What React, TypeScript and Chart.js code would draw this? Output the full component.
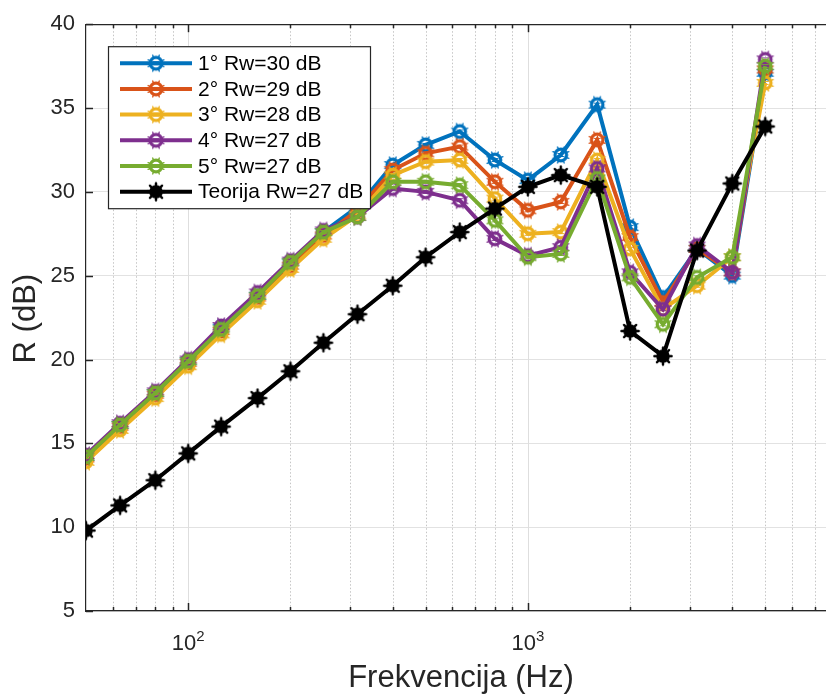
import React, { useEffect, useRef } from 'react';
import { Chart, registerables } from 'chart.js';

Chart.register(...registerables);

// ---- data ----
const frequencies = [50, 63, 80, 100, 125, 160, 200, 250, 315, 400, 500, 630, 800, 1000, 1250, 1600, 2000, 2500, 3150, 4000, 5000];
const series1 = [14.2, 16.1, 18.0, 19.9, 21.9, 23.8, 25.8, 27.6, 29.1, 31.6, 32.8, 33.6, 31.9, 30.7, 32.2, 35.2, 27.9, 23.7, 26.6, 25.0, 37.1];
const series2 = [14.1, 16.0, 17.9, 19.8, 21.7, 23.7, 25.6, 27.4, 28.9, 31.3, 32.3, 32.7, 30.6, 28.9, 29.4, 33.1, 27.3, 23.4, 26.6, 25.2, 37.3];
const series3 = [13.9, 15.8, 17.7, 19.6, 21.5, 23.5, 25.4, 27.2, 28.6, 31.0, 31.8, 31.9, 29.6, 27.5, 27.6, 31.9, 26.6, 23.0, 24.4, 26.1, 36.5];
const series4 = [14.3, 16.2, 18.1, 20.0, 22.0, 24.0, 25.9, 27.7, 28.5, 30.2, 30.0, 29.5, 27.2, 26.2, 26.7, 31.4, 25.2, 23.0, 26.8, 25.2, 37.9];
const series5 = [14.2, 16.1, 18.0, 19.9, 21.8, 23.8, 25.8, 27.6, 28.5, 30.6, 30.6, 30.4, 28.3, 26.1, 26.3, 30.8, 24.9, 22.1, 24.9, 26.1, 37.5];
const theory = [9.8, 11.3, 12.8, 14.4, 16.0, 17.7, 19.3, 21.0, 22.7, 24.4, 26.1, 27.6, 29.0, 30.3, 31.0, 30.3, 21.7, 20.2, 26.5, 30.5, 33.9];

const seriesLabels = ['1° Rw=30 dB', '2° Rw=29 dB', '3° Rw=28 dB', '4° Rw=27 dB', '5° Rw=27 dB', 'Teorija Rw=27 dB'];
const seriesColors = ['#0072BD', '#D95319', '#EDB120', '#7E2F8E', '#77AC30', '#000000'];
const allSeries = [series1, series2, series3, series4, series5, theory];

const yTicks = [5, 10, 15, 20, 25, 30, 35, 40];
const xMajorTicks = [100, 1000];
const xMajorLabels = [['10', '2'], ['10', '3']];
const xMinorTicks = [60, 70, 80, 90, 200, 300, 400, 500, 600, 700, 800, 900, 2000, 3000, 4000, 5000, 6000, 7000];

const xTitle = 'Frekvencija (Hz)';
const yTitle = 'R (dB)';

const FONT = "'Liberation Sans', Arial, Helvetica, sans-serif";
const TEXT = '#262626';

function makeMarker(color: string, filled: boolean): HTMLCanvasElement {
  const c = document.createElement('canvas');
  c.width = 22;
  c.height = 22;
  const g = c.getContext('2d')!;
  const cx = 11, cy = 11;
  g.strokeStyle = color;
  g.fillStyle = color;
  g.lineCap = 'round';
  if (filled) {
    g.beginPath();
    g.arc(cx, cy, 6.8, 0, Math.PI * 2);
    g.fill();
    g.lineWidth = 2.4;
    for (let k = 0; k < 8; k++) {
      const a = (k * Math.PI) / 4;
      g.beginPath();
      g.moveTo(cx + Math.cos(a) * 4, cy + Math.sin(a) * 4);
      g.lineTo(cx + Math.cos(a) * 8.6, cy + Math.sin(a) * 8.6);
      g.stroke();
    }
  } else {
    g.lineWidth = 3.2;
    g.beginPath();
    g.arc(cx, cy, 5.8, 0, Math.PI * 2);
    g.stroke();
    g.lineWidth = 1.4;
    for (let k = 0; k < 8; k++) {
      const a = (k * Math.PI) / 4 + Math.PI / 8;
      g.beginPath();
      g.moveTo(cx + Math.cos(a) * 6, cy + Math.sin(a) * 6);
      g.lineTo(cx + Math.cos(a) * 8.6, cy + Math.sin(a) * 8.6);
      g.stroke();
    }
    g.lineWidth = 1.2;
    g.beginPath();
    g.moveTo(cx - 3, cy - 1.5);
    g.lineTo(cx + 3, cy - 1.5);
    g.moveTo(cx - 3, cy + 1.5);
    g.lineTo(cx + 3, cy + 1.5);
    g.stroke();
  }
  return c;
}

export default function App() {
  const ref = useRef<HTMLCanvasElement | null>(null);

  useEffect(() => {
    document.body.style.margin = '0';
    const canvas = ref.current!;
    const markers = seriesColors.map((c, i) => makeMarker(c, i === seriesColors.length - 1));

    const framePlugin = {
      id: 'matlabFrame',
      beforeDatasetsDraw(chart: any) {
        const { ctx, chartArea: a, scales } = chart;
        const xs = scales.x;
        const ys = scales.y;
        ctx.save();
        const line = (x1: number, y1: number, x2: number, y2: number) => {
          ctx.beginPath();
          ctx.moveTo(x1, y1);
          ctx.lineTo(x2, y2);
          ctx.stroke();
        };
        ctx.lineWidth = 1;
        ctx.strokeStyle = 'rgba(150,150,150,0.55)';
        ctx.setLineDash([1.5, 2]);
        for (const v of xMinorTicks) {
          const px = Math.round(xs.getPixelForValue(v)) + 0.5;
          if (px > a.right) continue;
          line(px, a.top, px, a.bottom);
        }
        ctx.setLineDash([]);
        ctx.strokeStyle = '#dedede';
        for (const v of xMajorTicks) {
          const px = Math.round(xs.getPixelForValue(v)) + 0.5;
          line(px, a.top, px, a.bottom);
        }
        ctx.strokeStyle = TEXT;
        ctx.lineWidth = 1.2;
        line(a.left, a.top + 0.5, a.right, a.top + 0.5);
        ctx.lineWidth = 1.5;
        for (const v of xMinorTicks) {
          const px = Math.round(xs.getPixelForValue(v)) + 0.5;
          if (px > a.right) continue;
          line(px, a.bottom, px, a.bottom - 4);
          line(px, a.top, px, a.top + 4);
        }
        for (const v of xMajorTicks) {
          const px = Math.round(xs.getPixelForValue(v)) + 0.5;
          line(px, a.bottom, px, a.bottom - 8);
          line(px, a.top, px, a.top + 8);
        }
        for (const v of yTicks) {
          const py = Math.round(ys.getPixelForValue(v)) + 0.5;
          line(a.left, py, a.left + 7, py);
        }
        ctx.restore();
      },
      afterDatasetsDraw(chart: any) {
        const { ctx, chartArea: a } = chart;
        ctx.save();
        const left = a.left + 22;
        const top = a.top + 22;
        const w = 262;
        const h = 162;
        ctx.fillStyle = '#ffffff';
        ctx.fillRect(left, top, w, h);
        ctx.strokeStyle = TEXT;
        ctx.lineWidth = 1.2;
        ctx.strokeRect(left + 0.5, top + 0.5, w, h);
        ctx.font = `21px ${FONT}`;
        ctx.textBaseline = 'middle';
        ctx.textAlign = 'left';
        seriesLabels.forEach((lbl, i) => {
          const cy = top + 17 + i * 25.7;
          ctx.strokeStyle = seriesColors[i];
          ctx.lineWidth = 4;
          ctx.beginPath();
          ctx.moveTo(left + 12, cy);
          ctx.lineTo(left + 84, cy);
          ctx.stroke();
          const m = markers[i];
          ctx.drawImage(m, left + 48 - m.width / 2, cy - m.height / 2);
          ctx.fillStyle = '#000000';
          ctx.fillText(lbl, left + 90, cy + 1);
        });
        ctx.restore();
      },
      afterDraw(chart: any) {
        const { ctx, chartArea: a, scales } = chart;
        const xs = scales.x;
        ctx.save();
        ctx.fillStyle = TEXT;
        xMajorTicks.forEach((v, i) => {
          const px = xs.getPixelForValue(v);
          const [base, exp] = xMajorLabels[i];
          ctx.font = `22px ${FONT}`;
          const wb = ctx.measureText(base).width;
          ctx.font = `15px ${FONT}`;
          const we = ctx.measureText(exp).width;
          const start = px - (wb + we) / 2;
          ctx.textAlign = 'left';
          ctx.textBaseline = 'alphabetic';
          ctx.font = `22px ${FONT}`;
          ctx.fillText(base, start, a.bottom + 39);
          ctx.font = `15px ${FONT}`;
          ctx.fillText(exp, start + wb, a.bottom + 30);
        });
        ctx.font = `31px ${FONT}`;
        ctx.textAlign = 'center';
        ctx.textBaseline = 'alphabetic';
        ctx.fillText(xTitle, 461, a.bottom + 76);
        ctx.translate(35, (a.top + a.bottom) / 2 + 1);
        ctx.rotate(-Math.PI / 2);
        ctx.fillText(yTitle, 0, 0);
        ctx.restore();
      },
    };

    const chart = new Chart(canvas, {
      type: 'line',
      data: {
        labels: frequencies,
        datasets: allSeries.map((s, i) => ({
          label: seriesLabels[i],
          data: s.map((y, j) => ({ x: frequencies[j], y })),
          borderColor: seriesColors[i],
          backgroundColor: seriesColors[i],
          borderWidth: 4,
          pointStyle: markers[i] as any,
          pointRadius: 7,
          pointHoverRadius: 7,
          tension: 0,
          fill: false,
          order: allSeries.length - 1 - i,
        })),
      },
      options: {
        responsive: false,
        animation: false,
        devicePixelRatio: 1,
        layout: { autoPadding: false, padding: { top: 23, left: 0, right: 0, bottom: 0 } },
        plugins: {
          legend: { display: false },
          tooltip: { enabled: false },
        },
        events: [],
        scales: {
          x: {
            type: 'logarithmic',
            min: 50,
            max: 7550,
            ticks: { display: false },
            grid: { display: false },
            border: { display: true, color: TEXT, width: 1.2 },
            afterFit: (s: any) => {
              s.height = 84;
            },
          },
          y: {
            type: 'linear',
            min: 5,
            max: 40,
            afterBuildTicks: (s: any) => {
              s.ticks = yTicks.map((v) => ({ value: v }));
            },
            ticks: {
              color: TEXT,
              font: { family: FONT, size: 22 },
              padding: 11,
            },
            grid: { color: '#e2e2e2', lineWidth: 1, drawTicks: false },
            border: { display: true, color: TEXT, width: 1.2 },
            afterFit: (s: any) => {
              s.width = 86;
            },
          },
        },
      },
      plugins: [framePlugin],
    } as any);

    return () => chart.destroy();
  }, []);

  return (
    <div style={{ width: 826, height: 695 }}>
      <canvas ref={ref} width={826} height={695} />
    </div>
  );
}
